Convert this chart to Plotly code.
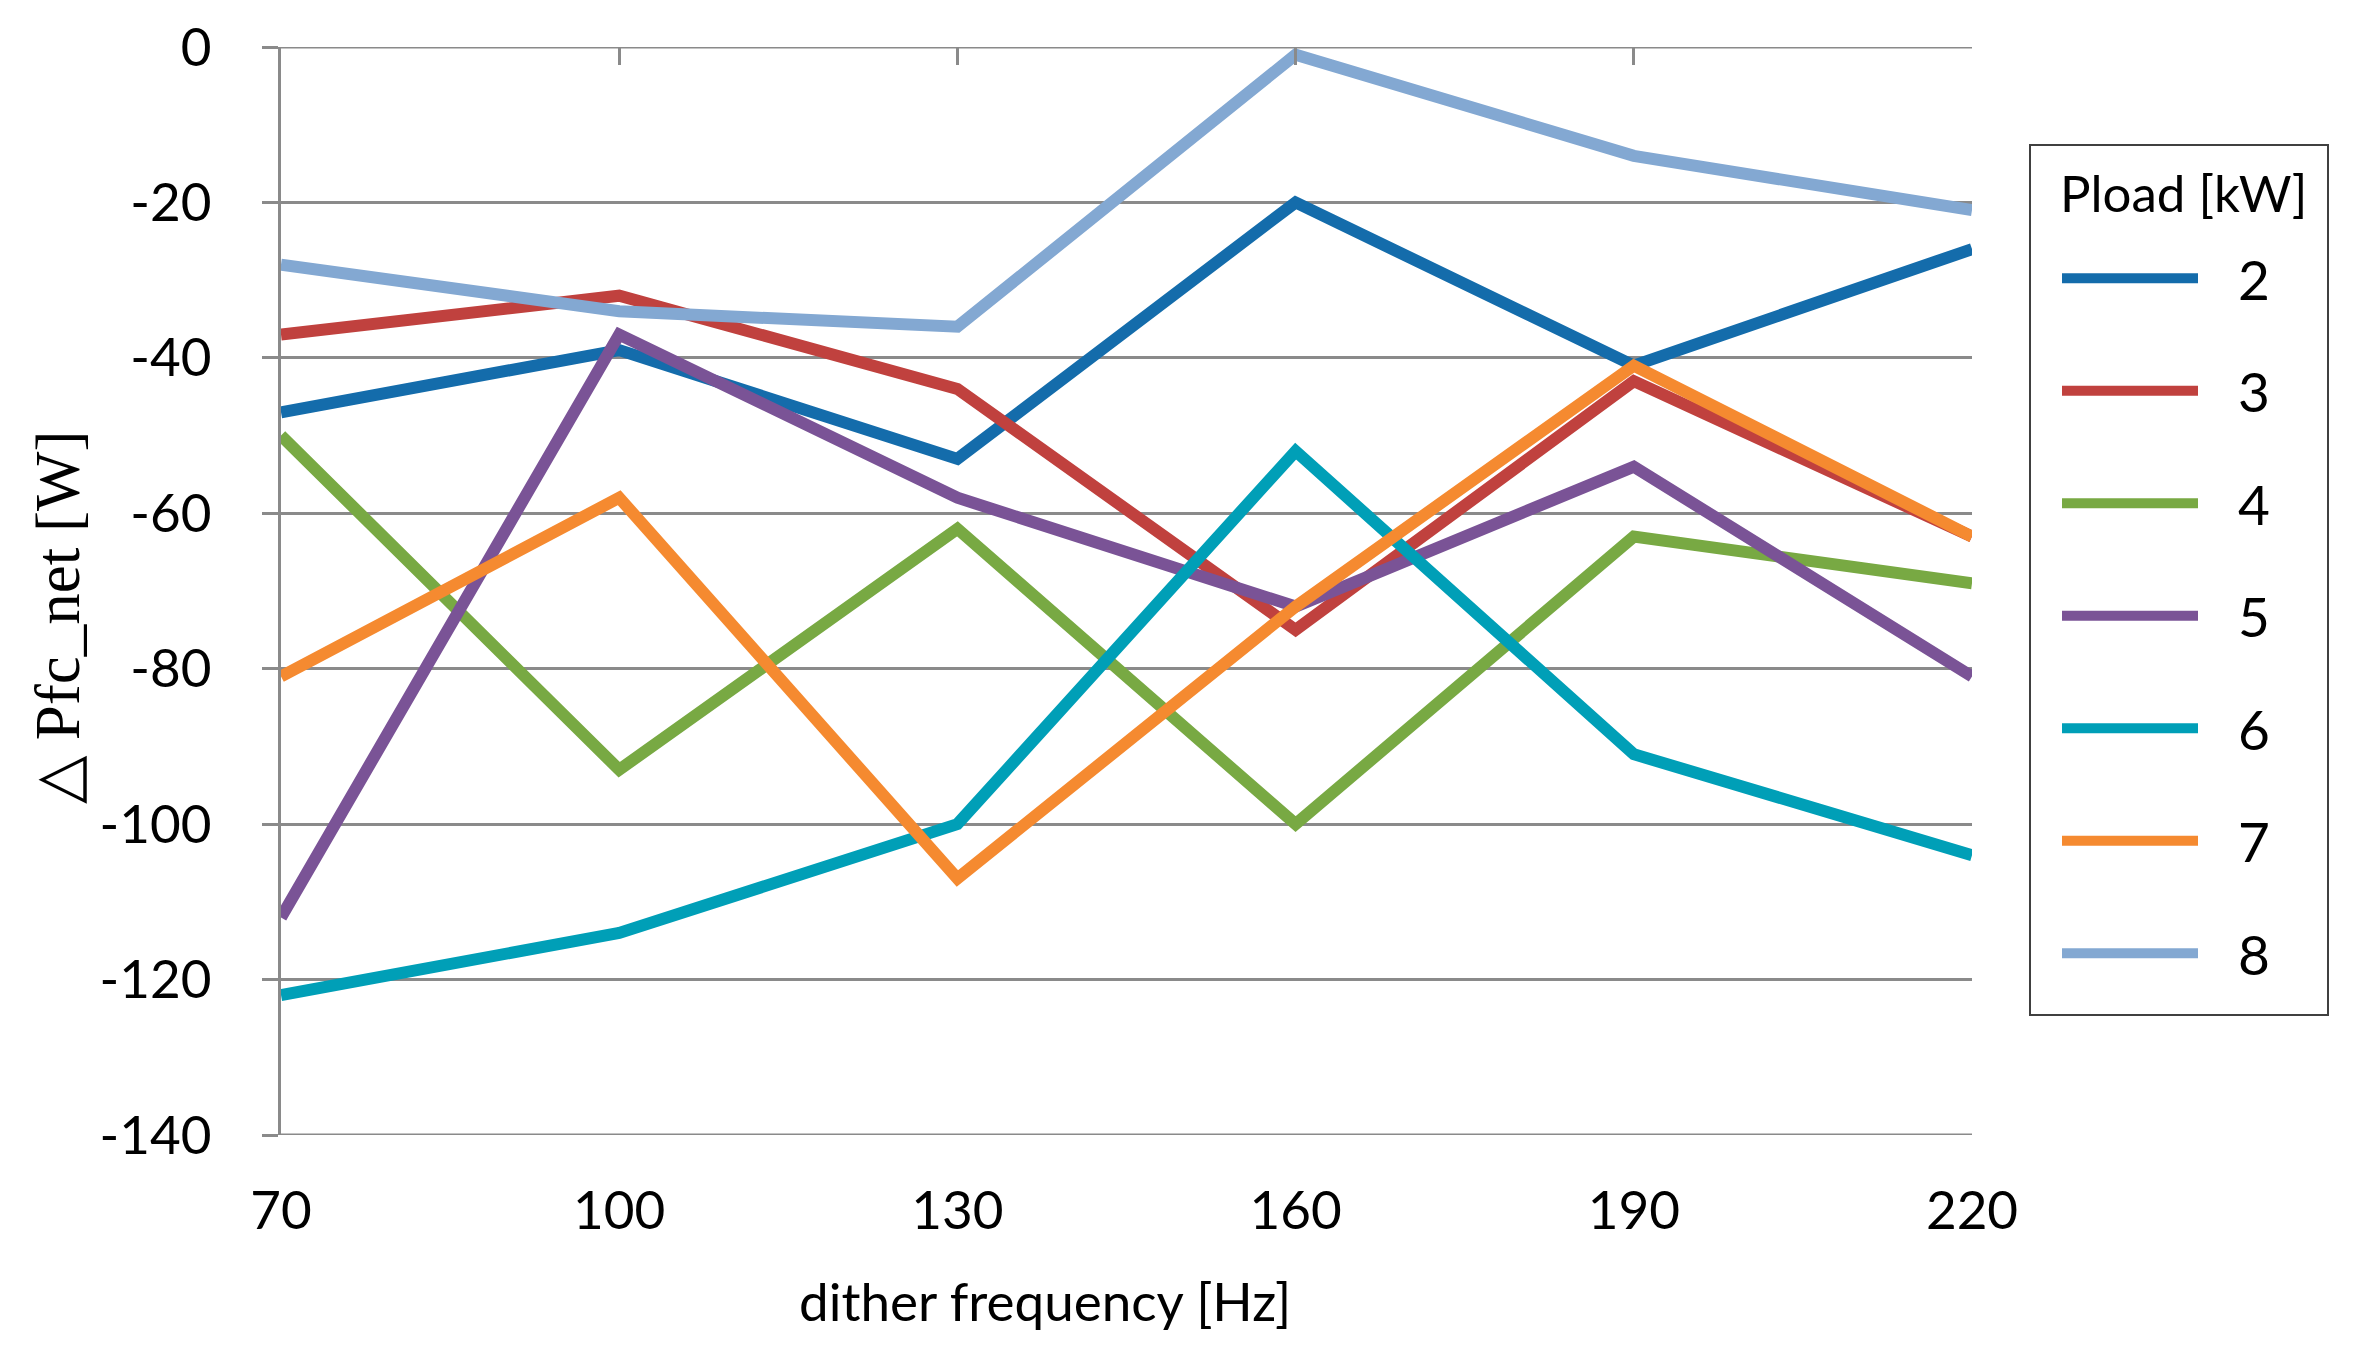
import plotly.graph_objects as go

freq = [70, 100, 130, 160, 190, 220]
loads = ["2", "3", "4", "5", "6", "7", "8"]
values = {
    "2": [-47, -39, -53, -20, -41, -26],
    "3": [-37, -32, -44, -75, -43, -63],
    "4": [-50, -93, -62, -100, -63, -69],
    "5": [-112, -37, -58, -72, -54, -81],
    "6": [-122, -114, -100, -52, -91, -104],
    "7": [-81, -58, -107, -72, -41, -63],
    "8": [-28, -34, -36, -1, -14, -21],
}
colors = {
    "2": "#146CAB",
    "3": "#C0413E",
    "4": "#78A943",
    "5": "#7A5396",
    "6": "#009FB7",
    "7": "#F58A30",
    "8": "#83A8D2",
}
y_ticks = [0, -20, -40, -60, -80, -100, -120, -140]

GRID = "#8A8A8A"
W, H = 2363, 1363
L, R, T, B = 273, 399, 39, 236
PW = W - L - R
PH = H - T - B


def px(xp):
    return (xp - L) / PW


def py(yp):
    return 1 - (yp - T) / PH


NB = "\u00a0"

fig = go.Figure()
for k in loads:
    fig.add_trace(go.Scatter(
        x=freq, y=values[k], mode="lines", name=NB * 2 + "\u2009" + k,
        legendgroup=k,
        line=dict(color=colors[k], width=12),
    ))

# invisible trace to host the top tick-mark axis
fig.add_trace(go.Scatter(x=freq, y=[None] * len(freq), xaxis="x2", yaxis="y",
                         showlegend=False, hoverinfo="skip", mode="lines"))

fig.update_layout(
    width=W, height=H,
    margin=dict(l=L, r=R, t=T, b=B, autoexpand=False),
    paper_bgcolor="white", plot_bgcolor="white",
    font=dict(family="Lato", color="black"),
    xaxis=dict(
        range=[70, 220], tickvals=freq, ticktext=[str(f) for f in freq],
        showgrid=False, zeroline=False, showline=False, ticks="",
        tickfont=dict(size=53, family="Lato"), ticklabelstandoff=40,
    ),
    xaxis2=dict(
        range=[70, 220], overlaying="x", side="top", anchor="y",
        tickvals=freq[1:], showticklabels=False, ticks="inside",
        ticklen=18, tickwidth=3, tickcolor=GRID,
        showgrid=False, zeroline=False, showline=False,
    ),
    yaxis=dict(
        range=[-140, 0], tickvals=y_ticks, ticktext=[str(v) for v in y_ticks],
        showgrid=True, gridcolor=GRID, gridwidth=3,
        zeroline=False, showline=True, linecolor=GRID, linewidth=3,
        ticks="outside", ticklen=16, tickwidth=3, tickcolor=GRID,
        tickfont=dict(size=53, family="Lato"), ticklabelstandoff=40,
    ),
    legend=dict(
        x=px(2049), y=py(228), xanchor="left", yanchor="top",
        borderwidth=0, bgcolor="rgba(0,0,0,0)",
        font=dict(size=55, family="Lato"),
        itemwidth=136, tracegroupgap=38,
    ),
    shapes=[
        dict(type="line", xref="x", yref="y", x0=70, x1=220, y0=0, y1=0,
             line=dict(color=GRID, width=3), layer="below"),
        dict(type="line", xref="x", yref="y", x0=70, x1=220, y0=-140, y1=-140,
             line=dict(color=GRID, width=3), layer="below"),
        dict(type="rect", xref="paper", yref="paper",
             x0=px(2022), x1=px(2320), y0=py(1007), y1=py(137),
             line=dict(color="#404040", width=2), fillcolor="rgba(0,0,0,0)"),
    ],
    annotations=[
        dict(text="dither frequency [Hz]", x=px(1037), y=py(1292),
             xref="paper", yref="paper", xanchor="center", yanchor="middle",
             showarrow=False, font=dict(size=53, family="Lato")),
        dict(text="△ Pfc_net [W]", x=px(50), y=py(610), xref="paper", yref="paper",
             xanchor="center", yanchor="middle",
             showarrow=False, textangle=-90,
             font=dict(size=63, family="Liberation Serif")),
        dict(text="Pload [kW]", x=px(2050), y=py(185), xref="paper", yref="paper",
             xanchor="left", yanchor="middle", showarrow=False,
             font=dict(size=51, family="Lato")),
    ],
)

fig.write_html("out.html")
